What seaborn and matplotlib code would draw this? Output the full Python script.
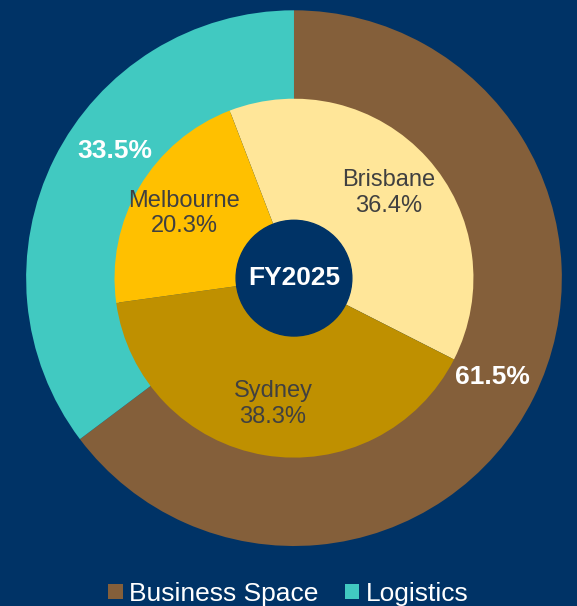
import matplotlib
matplotlib.use("Agg")
import numpy as np
import matplotlib.pyplot as plt
import seaborn as sns

# outer ring: sector split
sectors = ["Business Space", "Logistics"]
sector_pct = [61.5, 33.5]

# inner pie: city split
cities = ["Brisbane", "Sydney", "Melbourne"]
city_pct = [36.4, 38.3, 20.3]

year_label = "FY2025"

NAVY = "#003366"
sector_colors = ["#845F3A", "#41C9C1"]
city_colors = ["#FFE699", "#BF9000", "#FFC000"]

sns.set_style("white")
plt.rcParams["font.family"] = ["Liberation Sans", "DejaVu Sans"]

fig = plt.figure(figsize=(5.77, 6.06), dpi=100, facecolor=NAVY)
ax = fig.add_axes([0.045, 0.099, 0.929, 0.884])
ax.set_facecolor(NAVY)

# outer ring
outer_txt = iter(sector_pct)
outer_wedges, _, outer_auto = ax.pie(
    sector_pct, colors=sector_colors, radius=1.0, startangle=90,
    counterclock=False, wedgeprops=dict(width=0.34, linewidth=0),
    autopct=lambda p: f"{next(outer_txt)}%", pctdistance=0.83,
    textprops=dict(color="white", fontsize=19, fontweight="bold"))

# the logistics label sits a bit higher up the ring than the wedge middle
w = outer_wedges[1]
ang = np.deg2rad(w.theta1 + 0.43 * (w.theta2 - w.theta1))
outer_auto[1].set_position((0.82 * np.cos(ang), 0.82 * np.sin(ang)))

# inner pie
inner_txt = iter(zip(cities, city_pct))
def inner_label(p):
    name, v = next(inner_txt)
    return f"{name}\n{v}%"

ax.pie(
    city_pct, colors=city_colors, radius=0.67, startangle=111,
    counterclock=False, wedgeprops=dict(linewidth=0),
    autopct=inner_label, pctdistance=0.71,
    textprops=dict(color="#404040", fontsize=17, linespacing=1.2))

# centre hole
ax.add_patch(plt.Circle((0, 0), 0.216, color=NAVY, zorder=5))
ax.text(0, 0, year_label, ha="center", va="center", color="white",
        fontsize=19, fontweight="bold", zorder=6)

ax.set_xlim(-1, 1)
ax.set_ylim(-1, 1)
ax.set_aspect("equal")
ax.axis("off")

fig.legend(outer_wedges, sectors, loc="center", bbox_to_anchor=(0.5, 0.02),
           ncol=2, frameon=False, fontsize=19, labelcolor="white",
           handlelength=0.54, handleheight=0.54, handletextpad=0.25,
           columnspacing=1.0)

fig.savefig("out.png", dpi=100, facecolor=NAVY)
